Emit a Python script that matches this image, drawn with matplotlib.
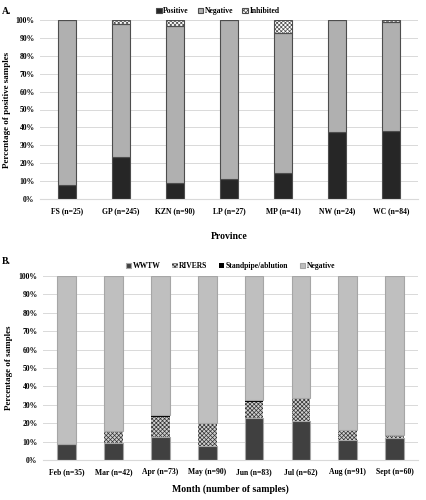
import matplotlib.pyplot as plt
import numpy as np

plt.rcParams['font.family'] = ['Liberation Serif', 'DejaVu Serif']
plt.rcParams['font.weight'] = 'bold'
plt.rcParams['hatch.linewidth'] = 0.5

# Panel A data (percent)
provinces = ['FS (n=25)', 'GP (n=245)', 'KZN (n=90)', 'LP (n=27)', 'MP (n=41)', 'NW (n=24)', 'WC (n=84)']
prov_positive = [8.0, 23.7, 8.9, 11.1, 14.6, 37.5, 38.1]
prov_inhibited = [0.0, 2.4, 3.3, 0.0, 7.3, 0.0, 1.2]
prov_negative = [100 - p - i for p, i in zip(prov_positive, prov_inhibited)]

# Panel B data (percent)
months = ['Feb (n=35)', 'Mar (n=42)', 'Apr (n=73)', 'May (n=90)', 'Jun (n=83)',
          'Jul (n=62)', 'Aug (n=91)', 'Sept (n=60)']
wwtw = [8.6, 9.5, 12.3, 7.8, 22.9, 21.0, 11.0, 11.7]
rivers = [0.0, 6.5, 11.0, 12.2, 8.4, 12.9, 5.5, 1.7]
standpipe = [0.0, 0.0, 1.4, 0.0, 1.2, 0.0, 0.0, 0.0]
month_negative = [100 - a - b - c for a, b, c in zip(wwtw, rivers, standpipe)]

fig = plt.figure(figsize=(4.27, 5.00), dpi=100)
axA = fig.add_axes([0.094, 0.602, 0.885, 0.358])
axB = fig.add_axes([0.101, 0.080, 0.878, 0.368])

def style_axis(ax, labels):
    ax.set_ylim(0, 100)
    ax.set_yticks(np.arange(0, 101, 10))
    ax.set_yticklabels([f'{v}%' for v in range(0, 101, 10)], fontsize=5.5)
    ax.set_xticks(range(len(labels)))
    ax.set_xticklabels(labels, fontsize=5.5)
    ax.set_xlim(-0.5, len(labels) - 0.5)
    ax.grid(axis='y', color='#d9d9d9', linewidth=0.7)
    ax.set_axisbelow(True)
    for s in ['top', 'right', 'left']:
        ax.spines[s].set_visible(False)
    ax.spines['bottom'].set_color('#d9d9d9')
    ax.tick_params(axis='y', length=0, pad=4)
    ax.tick_params(axis='x', length=0, pad=6)

# Panel A
x = np.arange(len(provinces))
w = 0.34
axA.bar(x, prov_positive, w, color='#262626', edgecolor='#4d4d4d', linewidth=0.8, label='Positive')
axA.bar(x, prov_negative, w, bottom=prov_positive, color='#b0b0b0', edgecolor='#4d4d4d',
        linewidth=0.8, label='Negative')
bot = [p + n for p, n in zip(prov_positive, prov_negative)]
axA.bar(x, prov_inhibited, w, bottom=bot, color='white', edgecolor='#4d4d4d', hatch='xxxxxxxx',
        linewidth=0.8, label='Inhibited')
style_axis(axA, provinces)
axA.set_ylabel('Percentage of positive samples', fontsize=6.5, fontweight='bold', labelpad=3)
axA.set_xlabel('Province', fontsize=7, fontweight='bold', labelpad=12)
axA.legend(loc='lower center', bbox_to_anchor=(0.47, 1.0), ncol=3, frameon=False, fontsize=5.5,
           handlelength=0.7, handleheight=0.7, handletextpad=0.2, columnspacing=1.2,
           borderaxespad=0.2)

# Panel B
x = np.arange(len(months))
w = 0.4
axB.bar(x, wwtw, w, color='#404040', edgecolor='#a6a6a6', linewidth=0.8, label='WWTW')
axB.bar(x, rivers, w, bottom=wwtw, color='#d0d0d0', edgecolor='#333333', hatch='xxxxxxxx',
        linewidth=0, label='RIVERS')
b2 = [a + b for a, b in zip(wwtw, rivers)]
axB.bar(x, standpipe, w, bottom=b2, color='black', edgecolor='black', linewidth=0,
        label='Standpipe/ablution')
b3 = [a + b for a, b in zip(b2, standpipe)]
axB.bar(x, month_negative, w, bottom=b3, color='#bfbfbf', edgecolor='#a6a6a6', linewidth=0.8,
        label='Negative')
style_axis(axB, months)
axB.set_ylabel('Percentage of samples', fontsize=6.5, fontweight='bold', labelpad=4)
axB.set_xlabel('Month (number of samples)', fontsize=7, fontweight='bold', labelpad=6)
axB.legend(loc='lower center', bbox_to_anchor=(0.5, 1.0), ncol=4, frameon=False, fontsize=5.5,
           handlelength=0.7, handleheight=0.7, handletextpad=0.2, columnspacing=1.5,
           borderaxespad=0.4)

fig.text(0.005, 0.985, 'A.', fontsize=7, fontweight='bold', va='top')
fig.text(0.005, 0.485, 'B.', fontsize=7, fontweight='bold', va='top')

fig.savefig('out.png', dpi=100)
